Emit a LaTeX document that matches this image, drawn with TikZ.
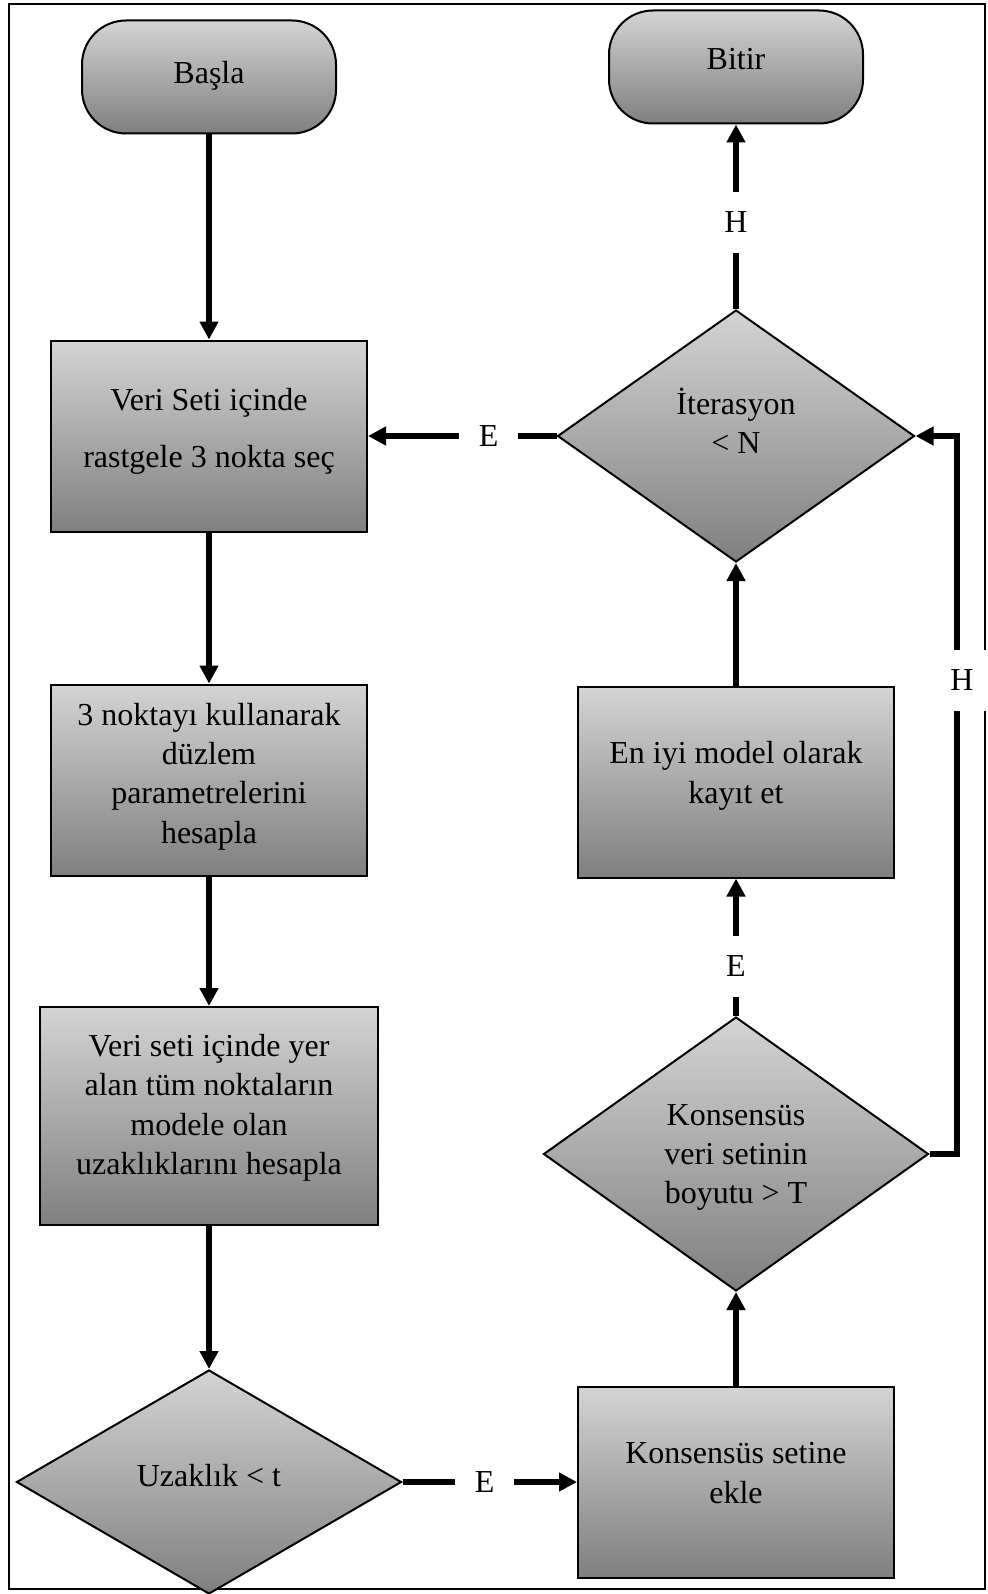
\documentclass[tikz,border=0pt]{standalone}
\usepackage{fontspec}
\setmainfont{Liberation Serif}
\usetikzlibrary{shapes.geometric, arrows.meta, positioning}

\begin{document}
\begin{tikzpicture}[
    x=0.5pt, y=-0.5pt,
    term/.style={
      draw, line width=1pt, rounded corners=22pt, top color=black!17, bottom color=black!50,
      minimum width=127pt, minimum height=56.5pt, font=\fontsize{16}{19.7}\selectfont
    },
    proc/.style={
      draw, line width=1pt, top color=black!17, bottom color=black!50, align=center,
      minimum width=158pt, minimum height=95.5pt, font=\fontsize{16}{19.7}\selectfont
    },
    dec/.style={
      diamond, draw, line width=1pt, top color=black!17, bottom color=black!50, align=center,
      inner sep=0pt, font=\fontsize{16}{19.7}\selectfont
    },
    fl/.style={-{Triangle[length=9pt, width=9pt]}, line width=3pt},
    lbl/.style={fill=white, inner sep=10pt, font=\fontsize{16}{19.7}\selectfont}
  ]
    \useasboundingbox (0,0) rectangle (987,1594);
    \draw[line width=1pt] (9,4) rectangle (985,1589);

    % --- sol sütun ---
    \node[term, text depth=5pt] (basla) at (209,77) {Başla};
    \node[proc, text depth=8.5pt] (secim) at (209,436) {Veri Seti içinde\\[8.8pt]rastgele 3 nokta seç};
    \node[proc, text depth=7pt] (duzlem) at (209,780) {3 noktayı kullanarak\\düzlem\\parametrelerini\\hesapla};
    \node[proc, minimum width=169pt, minimum height=109pt, text depth=11.5pt] (uzak) at (209,1116)
      {Veri seti içinde yer\\alan tüm noktaların\\modele olan\\uzaklıklarını hesapla};
    \node[dec, minimum width=192.5pt, minimum height=112pt, text depth=7pt] (esik) at (209,1482) {Uzaklık < t};

    % --- sağ sütun ---
    \node[term, text depth=8pt] (bitir) at (736,67) {Bitir};
    \node[dec, minimum width=178.5pt, minimum height=126pt, text depth=15pt] (iter) at (736,436) {İterasyon\\< N};
    \node[proc, text depth=9.5pt] (enyi) at (736,782) {En iyi model olarak\\kayıt et};
    \node[dec, minimum width=192.5pt, minimum height=137pt, text depth=0pt] (boyut) at (736,1154)
      {Konsensüs\\veri setinin\\boyutu > T};
    \node[proc, text depth=9pt] (ekle) at (736,1482) {Konsensüs setine\\ekle};
    \coordinate (hx) at (957,1154);

    \draw[fl] (basla) -- (secim);
    \draw[fl] (secim) -- (duzlem);
    \draw[fl] (duzlem) -- (uzak);
    \draw[fl] (uzak) -- (esik);
    \draw[fl] (esik) -- node[lbl, pos=0.47] {E} (ekle);
    \draw[fl] (ekle) -- (boyut);
    \draw[fl] (boyut) -- node[lbl, pos=0.36] {E} (enyi);
    \draw[fl] (enyi) -- (iter);
    \draw[fl] (iter) -- node[lbl, pos=0.47] {H} (bitir);
    \draw[fl] (iter) -- node[lbl, pos=0.36] {E} (secim);
    \draw[fl] (boyut.east) -- (hx) |- node[lbl, pos=0.33, xshift=2.5pt] {H} (iter.east);
  \end{tikzpicture}
\end{document}
